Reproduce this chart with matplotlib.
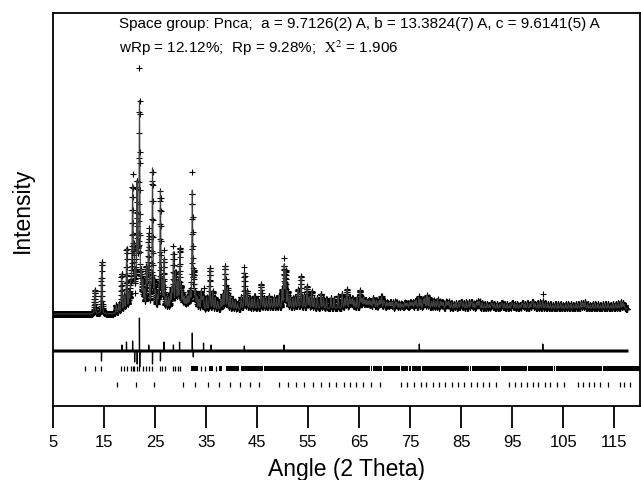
import numpy as np
import matplotlib
matplotlib.use("Agg")
from matplotlib import pyplot as plt

plt.rcParams['font.family'] = ['Liberation Sans', 'DejaVu Sans']
plt.rcParams['mathtext.fontset'] = 'stix'

peak_pos = [13.2, 14.55, 17.4, 18.45, 18.95, 19.45, 20.2, 20.6, 20.85, 21.45, 21.95,
            22.6, 23.3, 23.75, 24.5, 24.85, 26.05, 26.4, 26.75, 27.2, 28.6, 29.0,
            29.5, 29.85, 30.4, 31.0, 31.6, 32.3, 32.6, 33.2, 34.05, 34.5, 35.1,
            35.75, 36.3, 36.8, 37.3, 37.9, 38.3, 38.75, 39.2, 39.7, 40.2, 40.7,
            41.2, 41.9, 42.5, 43.0, 43.5, 44.0, 44.5, 45.1, 45.8, 46.3, 46.8,
            47.3, 47.8, 48.3, 48.8, 49.3, 49.9, 50.3, 50.6, 51.0, 51.5, 52.0,
            52.5, 53.0, 53.6, 54.2, 54.8, 55.2, 55.7, 56.2, 56.8, 57.5, 58.0,
            58.6, 59.5, 60.1, 60.9, 61.7, 62.6, 63.1, 63.7, 64.6, 65.2, 65.8,
            66.4, 67.0, 67.7, 68.4, 69.4, 70.0, 70.7, 71.3, 72.1, 72.8, 73.5,
            74.5, 75.5, 76.7, 77.6, 78.3, 79.2, 80.4, 81.5, 82.6, 83.6, 84.5,
            85.5, 86.5, 87.5, 88.6, 89.6, 90.5, 91.5, 92.5, 93.5, 94.5, 95.5,
            96.5, 97.5, 98.5, 99.5, 101.0, 102.0, 103.0, 104.0, 105.0, 106.0,
            107.0, 108.0, 109.3, 110.3, 111.3, 112.3, 113.3, 114.3, 115.3,
            116.3, 117.0]
peak_h = [24, 52, 8, 38, 15, 62, 22, 118, 55, 122, 205,
          26, 40, 72, 140, 25, 118, 25, 50, 12, 56, 34,
          25, 60, 16, 10, 12, 118, 34, 12, 18, 12, 12,
          42, 18, 12, 8, 10, 15, 43, 21, 13, 10, 8,
          6, 12, 37, 18, 11, 10, 13, 10, 25, 11, 10,
          13, 10, 11, 10, 13, 18, 42, 36, 16, 11, 10,
          11, 19, 32, 13, 22, 11, 17, 10, 11, 15, 10,
          10, 11, 10, 13, 15, 19, 11, 10, 11, 18, 10,
          8, 8, 10, 8, 12, 6, 5, 6, 7, 5, 4,
          5, 6, 11, 9, 13, 7, 9, 6, 7, 5, 6,
          6, 7, 5, 7, 5, 4, 5, 4, 5, 4, 5,
          4, 5, 5, 5, 8, 5, 4, 5, 4, 5,
          4, 5, 7, 4, 5, 4, 5, 4, 5,
          7, 4]

# weaker reflections that fill out the dense parts of the pattern
minor_pos = [17.9, 19.9, 20.4, 21.15, 21.7, 22.3, 22.9, 23.55, 24.2, 25.1,
             25.5, 25.8, 27.6, 28.0, 28.3, 29.2, 30.1, 30.7, 31.3, 31.9,
             32.9, 33.6, 34.3,
             62.2, 63.4, 64.1, 65.5, 66.1, 66.7, 67.3, 68.0, 68.8, 69.1,
             69.8, 70.4, 71.0, 71.6, 72.4, 73.2, 73.9, 74.2, 74.9, 75.2,
             75.9, 76.2, 77.1, 77.9, 78.7, 79.6, 80.0, 80.9, 81.2, 82.0,
             82.3, 83.1, 84.0, 84.9, 85.1, 86.0, 86.9, 87.1, 88.0, 88.3,
             89.1, 90.1, 90.9, 91.1, 92.0, 92.9, 93.1, 94.0, 94.9, 95.1,
             96.0, 96.9, 97.1, 98.0, 98.9, 99.1, 100.0, 100.5, 101.5, 102.5,
             103.5, 104.5, 105.5, 106.5, 107.5, 108.5, 108.9, 109.8, 110.8, 111.8,
             112.8, 113.8, 114.8, 115.8, 116.7]
minor_h = [8, 15, 25, 30, 40, 32, 18, 25, 20, 16,
           12, 18, 12, 15, 20, 20, 18, 12, 12, 16,
           16, 10, 10,
           9, 8, 8, 9, 8, 7, 7, 8, 7, 8,
           7, 6, 6, 6, 6, 5, 6, 5, 6, 6,
           7, 8, 9, 10, 11, 8, 7, 7, 6, 7,
           6, 6, 6, 6, 6, 7, 6, 6, 6, 7,
           6, 5, 5, 5, 5, 5, 5, 5, 5, 5,
           5, 5, 5, 6, 6, 6, 6, 7, 6, 5,
           5, 5, 5, 5, 5, 6, 6, 5, 5, 5,
           5, 5, 5, 6, 6]

bg_pos = [5, 17, 20, 30, 40, 50, 60, 70, 80, 90, 100, 117.5]
bg_val = [0, 0, 2, 3, 4, 5, 5, 5, 5, 5, 5, 5]

# larger obs - calc excursions seen in the difference curve
diff_pos = [14.5, 18.5, 19.4, 20.6, 21.0, 21.5, 21.93, 22.0, 23.75, 24.5,
            26.05, 26.75, 28.6, 29.8, 32.3, 32.5, 34.5, 36.0, 42.5, 50.3,
            76.8, 101.0]
diff_val = [-10, 6, 9, 10, -11, -13, 33, -16, 6, -13,
            -10, 9, 6, 9, 18, -6, 8, 6, 5, 6,
            7, 7]

# reflection markers
ticks_phase1 = [11.35, 13.2, 14.5, 18.4, 18.9, 19.5, 20.2, 20.6, 20.85, 21.5,
                21.9, 22.6, 23.3, 23.75, 24.5, 26.0, 26.35, 26.9, 28.6, 29.0,
                29.5, 29.8, 34.05, 34.7, 37.0]
bands_phase1 = [(32.1, 33.4), (35.5, 36.3), (37.6, 38.2), (38.9, 41.5),
                (41.9, 46.1), (46.4, 67.2), (67.4, 67.5), (67.7, 69.4),
                (69.6, 73.1), (73.3, 74.5), (74.7, 75.1), (75.3, 77.2),
                (77.4, 86.5), (86.7, 86.9), (87.1, 92.6), (92.8, 97.9),
                (98.1, 103.0), (103.2, 103.3), (103.5, 112.6), (112.8, 120)]
ticks_phase2 = [17.45, 21.35, 24.8, 30.46, 32.9, 35.35, 37.5, 39.6, 41.7, 43.7,
                45.45, 49.2, 51.0, 52.6, 54.25, 55.9, 57.5, 59.1, 60.55, 62.0,
                63.2, 64.45, 65.75, 67.25, 69.0, 73.15, 74.4, 75.75, 77.05,
                78.15, 79.45, 80.75, 81.9, 83.2, 84.35, 85.65, 86.95, 88.1,
                89.2, 90.5, 91.8, 94.45, 95.6, 96.8, 97.85, 99.05, 100.15,
                101.35, 102.5, 103.75, 105.25, 107.85, 108.95, 110.05, 111.1,
                112.2, 113.7, 116.1, 116.95, 118.05]

STEP = 0.02
FWHM = 0.2
ETA = 0.45
DIFF_OFFSET = -37
ROW1 = -54.2
ROW2 = -70.5

tth = np.arange(5.0, 117.5 + STEP / 2, STEP)
calc = np.interp(tth, bg_pos, bg_val)
for p, h in zip(peak_pos + minor_pos, peak_h + minor_h):
    x = (tth - p) / (FWHM / 2)
    calc += h * (ETA / (1 + x ** 2) + (1 - ETA) * np.exp(-np.log(2) * x ** 2))

dev = np.zeros_like(tth)
for p, v in zip(diff_pos, diff_val):
    dev[np.argmin(np.abs(tth - p))] += v
obs = calc + dev

fig = plt.figure(figsize=(6.41, 4.81), dpi=100)
ax = fig.add_axes([0.0827, 0.1538, 0.9153, 0.817])

ax.plot(tth, obs, '+', color='k', ms=5, mew=0.8)
ax.plot(tth, calc, color='0.25', lw=0.8)
ax.plot(tth, np.full_like(tth, DIFF_OFFSET), color='k', lw=2.2)
ax.plot(tth, dev + DIFF_OFFSET, color='k', lw=0.9)

ax.vlines(ticks_phase1, ROW1 - 2.6, ROW1 + 2.6, color='k', lw=0.9)
ax.broken_barh([(a, b - a) for a, b in bands_phase1], (ROW1 - 2.6, 5.2),
               facecolors='k')
ax.vlines(ticks_phase2, ROW2 - 2.6, ROW2 + 2.6, color='k', lw=0.9)

ax.set_xlim(5, 120)
ax.set_ylim(-92, 301)
ax.set_xticks(range(5, 120, 10))
ax.set_yticks([])
ax.tick_params(axis='x', direction='out', length=16, width=1.3, color='k',
               labelsize=12, pad=4)
for s in ax.spines.values():
    s.set_linewidth(1.3)

ax.set_xlabel('Angle (2 Theta)', fontsize=16.5, labelpad=6)
ax.set_ylabel('Intensity', fontsize=16.5, labelpad=14)

ax.text(0.112, 0.9746, 'Space group: Pnca;  a = 9.7126(2) A, b = 13.3824(7) A, c = 9.6141(5) A',
        transform=ax.transAxes, fontsize=11, va='center', ha='left')
ax.text(0.112, 0.9135, r'wRp = 12.12%;  Rp = 9.28%;  $\mathrm{X}^2$ = 1.906',
        transform=ax.transAxes, fontsize=11, va='center', ha='left')

fig.savefig('out.png', dpi=100)
